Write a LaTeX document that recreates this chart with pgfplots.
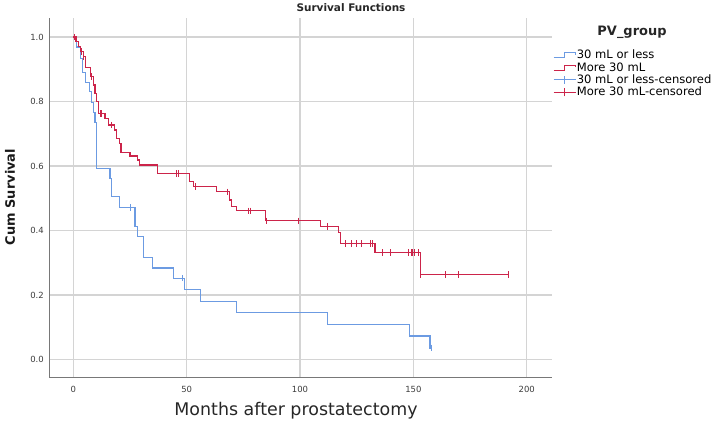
\documentclass[border=0pt]{standalone}
\usepackage{fontspec}
\setmainfont{DejaVu Sans}
\usepackage{pgfplots}
\pgfplotsset{compat=1.18}
\usepackage{pgfplotstable}
\definecolor{kmblue}{RGB}{108,155,226}
\definecolor{kmred}{RGB}{204,36,74}
\definecolor{gridgray}{RGB}{212,212,212}
\definecolor{axgray}{RGB}{120,120,120}
\definecolor{ticktext}{RGB}{60,60,60}

\pgfplotstableread{
t S
0 1.000
1.2 0.985
2.2 0.970
3.0 0.955
4.4 0.940
5.2 0.905
7.6 0.877
8.8 0.851
9.6 0.826
10.3 0.800
11.0 0.763
14.0 0.748
15.5 0.727
18.0 0.712
19.1 0.686
20.3 0.670
21.0 0.642
25.0 0.631
28.2 0.619
29.1 0.603
37.0 0.577
51.2 0.551
53.0 0.536
63.2 0.520
68.8 0.495
69.8 0.474
72.0 0.461
84.6 0.430
109.1 0.412
116.9 0.394
118.0 0.360
133.1 0.332
153.2 0.264
191.9 0.264
}\redsteps

\pgfplotstableread{
t S
0.3 1.000
3.7 0.955
4.4 0.940
8.1 0.877
11.8 0.763
12.5 0.763
16.9 0.727
45.3 0.577
46.5 0.577
54.0 0.536
68.1 0.520
77.2 0.461
78.0 0.461
85.0 0.430
99.3 0.430
112.0 0.412
120.2 0.360
122.5 0.360
124.7 0.360
126.9 0.360
131.2 0.360
131.9 0.360
136.3 0.332
140.1 0.332
148.0 0.332
149.0 0.332
149.7 0.332
150.4 0.332
152.2 0.332
153.2 0.264
164.3 0.264
170.1 0.264
191.9 0.264
}\redcens

\pgfplotstableread{
t S
0 1.000
1.5 0.969
3.2 0.934
4.1 0.889
5.2 0.858
7.1 0.832
8.1 0.797
8.8 0.766
9.6 0.735
10.3 0.593
16.2 0.562
16.9 0.505
20.3 0.472
27.2 0.412
28.2 0.381
30.9 0.317
35.0 0.284
44.1 0.252
49.1 0.218
56.2 0.181
72.1 0.145
112.0 0.108
148.1 0.073
157.3 0.036
158.1 0.036
}\bluesteps

\pgfplotstableread{
t S
25.0 0.472
48.2 0.252
158.1 0.036
}\bluecens

\begin{document}
\begin{tikzpicture}
\path[use as bounding box] (0,0) rectangle (712bp,430bp);
\begin{axis}[
  at={(49.3bp,52.7bp)}, anchor=south west,
  scale only axis, width=502.4bp, height=359.3bp,
  xmin=-10.6, xmax=211, ymin=-0.055, ymax=1.059,
  axis x line*=bottom, axis y line*=left,
  axis line style={draw=axgray, line width=0.9bp, -},
  xtick={0,50,100,150,200}, ytick={0,0.2,0.4,0.6,0.8,1.0},
  major tick length=0pt,
  grid=major, major grid style={draw=gridgray, line width=1.3bp},
  /pgf/number format/assume math mode=true,
  yticklabel style={/pgf/number format/fixed, /pgf/number format/precision=1, /pgf/number format/fixed zerofill, font=\fontsize{8.5}{10}\selectfont, text=ticktext, xshift=-2bp},
  xticklabel style={font=\fontsize{8.5}{10}\selectfont, text=ticktext, yshift=-5bp},
  legend style={at={(axis description cs:1.003,0.912)}, anchor=north west, draw=none, fill=none, inner sep=0pt, outer sep=0pt, font=\fontsize{11.6}{13}\selectfont, row sep=0.9bp, nodes={inner sep=0.6bp}},
  legend cell align=left,
]
\addplot[const plot, kmblue, line width=1.2bp, forget plot] table[x=t,y=S] {\bluesteps};
\addplot[const plot, kmred, line width=1.2bp, forget plot] table[x=t,y=S] {\redsteps};
\addplot[only marks, kmblue, mark=|, mark size=3.2bp, mark options={line width=1bp}, forget plot] table[x=t,y=S] {\bluecens};
\addplot[only marks, kmred, mark=|, mark size=3.2bp, mark options={line width=1bp}, forget plot] table[x=t,y=S] {\redcens};
\addlegendimage{legend image code/.code={\draw[kmblue, line width=1bp] (0bp,-2.5bp) -- (11bp,-2.5bp) -- (11bp,2.5bp) -- (22bp,2.5bp) -- (22bp,0.5bp);}}
\addlegendentry{30 mL or less}
\addlegendimage{legend image code/.code={\draw[kmred, line width=1bp] (0bp,-2.5bp) -- (11bp,-2.5bp) -- (11bp,2.5bp) -- (22bp,2.5bp) -- (22bp,0.5bp);}}
\addlegendentry{More 30 mL}
\addlegendimage{legend image code/.code={\draw[kmblue, line width=1bp] (0bp,0bp) -- (22bp,0bp) (11bp,-4bp) -- (11bp,4bp);}}
\addlegendentry{30 mL or less-censored}
\addlegendimage{legend image code/.code={\draw[kmred, line width=1bp] (0bp,0bp) -- (22bp,0bp) (11bp,-4bp) -- (11bp,4bp);}}
\addlegendentry{More 30 mL-censored}
\end{axis}
\node[font=\fontsize{10.5}{13}\selectfont\bfseries, text=black!85] at (351bp,422bp) {Survival Functions};
\node[font=\fontsize{13}{15}\selectfont\bfseries, text=black!85] at (632bp,398bp) {PV\_group};
\node[font=\fontsize{13}{15}\selectfont\bfseries, rotate=90, text=black!90] at (10bp,233bp) {Cum Survival};
\node[font=\fontsize{17.5}{20}\selectfont, text=black!85] at (296bp,19bp) {Months after prostatectomy};
\end{tikzpicture}
\end{document}
